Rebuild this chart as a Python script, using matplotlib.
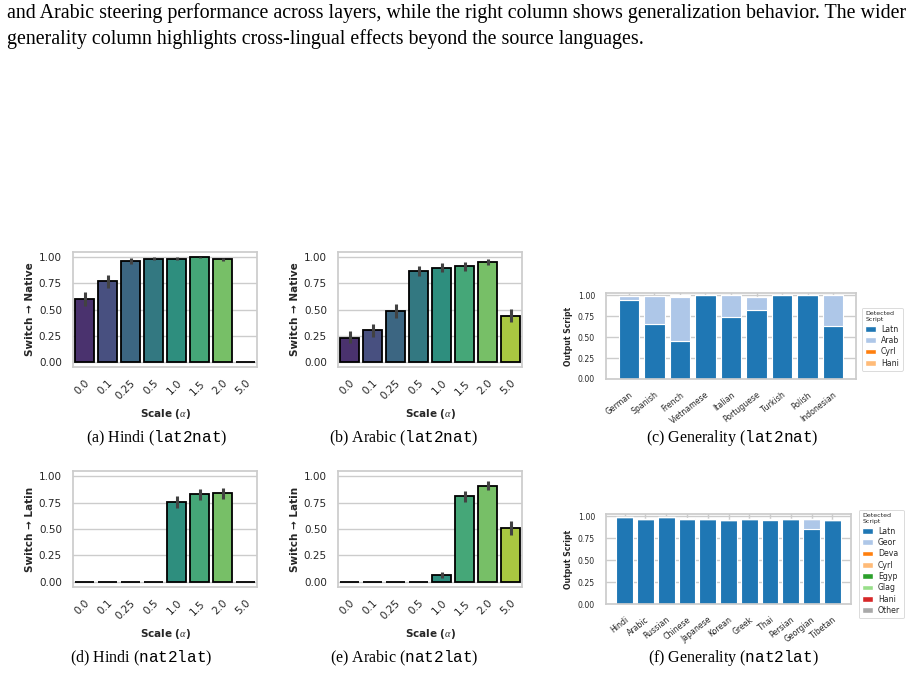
import numpy as np
import matplotlib
matplotlib.use("Agg")
import matplotlib.pyplot as plt
import seaborn as sns
from matplotlib.patches import Patch

sns.set_theme(style="whitegrid")
plt.rcParams['font.family'] = ['DejaVu Sans']
plt.rcParams['mathtext.fontset'] = 'custom'
plt.rcParams['mathtext.rm'] = 'Liberation Serif'
plt.rcParams['mathtext.it'] = 'Liberation Serif:italic'
plt.rcParams['mathtext.tt'] = 'Liberation Mono'

# scale sweep data
scales = ["0.0", "0.1", "0.25", "0.5", "1.0", "1.5", "2.0", "5.0"]

hi_l2n = [0.60, 0.77, 0.968, 0.984, 0.984, 1.0, 0.982, 0.0]
hi_l2n_lo = [0.535, 0.71, 0.94, 0.97, 0.97, 0.995, 0.965, 0.0]
hi_l2n_hi = [0.667, 0.83, 0.99, 0.998, 0.998, 1.0, 0.997, 0.0]

ar_l2n = [0.232, 0.30, 0.489, 0.87, 0.898, 0.914, 0.955, 0.441]
ar_l2n_lo = [0.175, 0.238, 0.422, 0.82, 0.857, 0.873, 0.927, 0.378]
ar_l2n_hi = [0.295, 0.365, 0.556, 0.92, 0.943, 0.952, 0.984, 0.508]

hi_n2l = [0.0, 0.0, 0.0, 0.0, 0.752, 0.829, 0.838, 0.0]
hi_n2l_lo = [0.0, 0.0, 0.0, 0.0, 0.695, 0.778, 0.787, 0.0]
hi_n2l_hi = [0.0, 0.0, 0.0, 0.0, 0.816, 0.876, 0.889, 0.0]

ar_n2l = [0.0, 0.0, 0.0, 0.0, 0.06, 0.81, 0.911, 0.514]
ar_n2l_lo = [0.0, 0.0, 0.0, 0.0, 0.032, 0.759, 0.87, 0.444]
ar_n2l_hi = [0.0, 0.0, 0.0, 0.0, 0.092, 0.863, 0.952, 0.578]

# generality data (lat2nat)
gen1_langs = ["German", "Spanish", "French", "Vietnamese", "Italian", "Portuguese",
              "Turkish", "Polish", "Indonesian"]
gen1_scripts = ["Latn", "Arab", "Cyrl", "Hani"]
gen1_latn = [0.94, 0.656, 0.46, 1.0, 0.74, 0.828, 1.0, 1.0, 0.628]
gen1_arab = [0.055, 0.332, 0.52, 0.0, 0.26, 0.152, 0.0, 0.0, 0.372]
gen1_cyrl = [0.0, 0.0, 0.015, 0.0, 0.0, 0.0, 0.0, 0.0, 0.0]
gen1_hani = [0.0, 0.0, 0.005, 0.0, 0.0, 0.0, 0.0, 0.0, 0.0]

# generality data (nat2lat)
gen2_langs = ["Hindi", "Arabic", "Russian", "Chinese", "Japanese", "Korean", "Greek",
              "Thai", "Persian", "Georgian", "Tibetan"]
gen2_scripts = ["Latn", "Geor", "Deva", "Cyrl", "Egyp", "Glag", "Hani", "Other"]
gen2_latn = [0.989, 0.973, 0.989, 0.973, 0.973, 0.958, 0.973, 0.958, 0.973, 0.852, 0.958]
gen2_geor = [0.0, 0.0, 0.0, 0.0, 0.0, 0.0, 0.0, 0.0, 0.0, 0.12, 0.0]
gen2_deva = [0.0, 0.0, 0.0, 0.0, 0.0, 0.0, 0.0, 0.0, 0.0, 0.0, 0.0]
gen2_cyrl = [0.0, 0.0, 0.0, 0.0, 0.0, 0.0, 0.0, 0.015, 0.0, 0.0, 0.0]
gen2_egyp = [0.0, 0.0, 0.0, 0.0, 0.0, 0.0, 0.0, 0.0, 0.0, 0.0, 0.0]
gen2_glag = [0.0, 0.0, 0.0, 0.0, 0.0, 0.0, 0.0, 0.0, 0.0, 0.0, 0.0]
gen2_hani = [0.0, 0.0, 0.0, 0.012, 0.0, 0.0, 0.0, 0.0, 0.0, 0.0, 0.0]
gen2_other = [0.0, 0.0, 0.0, 0.0, 0.0, 0.0, 0.0, 0.0, 0.0, 0.0, 0.0]

gen1_colors = ["#1f77b4", "#aec7e8", "#ff7f0e", "#ffbb78"]
gen2_colors = ["#1f77b4", "#aec7e8", "#ff7f0e", "#ffbb78", "#2ca02c", "#98df8a",
               "#d62728", "#a9a9a9"]

fig = plt.figure(figsize=(9.21, 6.74), dpi=100)
W, H = 921.0, 674.0


def px_axes(x0, y0, x1, y1):
    return fig.add_axes([x0 / W, 1 - y1 / H, (x1 - x0) / W, (y1 - y0) / H])


# seaborn barplot desaturates its palette by 0.75
pal = [sns.desaturate(c, 0.75) for c in sns.color_palette("viridis", len(scales))]


def scale_plot(ax, vals, lo, hi, ylabel):
    x = np.arange(len(scales))
    ax.bar(x, vals, width=0.8, color=pal, edgecolor="black", linewidth=1.3, zorder=2)
    for xi, l, h in zip(x, lo, hi):
        ax.plot([xi, xi], [l, h], color="#424242", lw=2.2, zorder=3, solid_capstyle="butt")
    ax.set_xlim(-0.5, len(scales) - 0.5)
    ax.set_ylim(-0.05, 1.05)
    ax.set_yticks([0, 0.25, 0.5, 0.75, 1.0])
    ax.set_yticklabels(["0.00", "0.25", "0.50", "0.75", "1.00"])
    ax.set_xticks(x)
    ax.set_xticklabels(scales, rotation=45, ha="right", rotation_mode="anchor")
    ax.tick_params(labelsize=7.5, colors="#262626", pad=2)
    ax.xaxis.grid(False)
    ax.set_ylabel(ylabel, fontsize=7.5, fontweight="bold", labelpad=3)
    ax.set_xlabel(r"Scale ($\alpha$)", fontsize=7.5, fontweight="bold", labelpad=4)


def gen_plot(ax, langs, series, colors, names, legend_xy):
    x = np.arange(len(langs))
    bottom = np.zeros(len(langs))
    for vals, c in zip(series, colors):
        ax.bar(x, vals, bottom=bottom, width=0.8, color=c, edgecolor="white",
               linewidth=0.8, zorder=2)
        bottom += np.array(vals)
    ax.set_xlim(-0.9, len(langs) - 0.1)
    ax.set_ylim(0, 1.028)
    ax.set_yticks([0, 0.25, 0.5, 0.75, 1.0])
    ax.set_yticklabels(["0.00", "0.25", "0.50", "0.75", "1.00"])
    ax.set_xticks(x)
    ax.set_xticklabels(langs, rotation=38, ha="right", rotation_mode="anchor")
    ax.tick_params(labelsize=5.6, colors="#262626", pad=2)
    ax.set_ylabel("Output Script", fontsize=5.6, fontweight="bold", labelpad=3)
    handles = [Patch(facecolor=c, edgecolor="white") for c in colors]
    leg = fig.legend(handles, names, title="Detected\nScript", loc="upper left",
                     bbox_to_anchor=legend_xy, fontsize=5.6, title_fontsize=4.5,
                     handlelength=1.3, handleheight=0.7, labelspacing=0.3,
                     borderpad=0.45, handletextpad=0.7, frameon=True)
    leg._legend_box.align = "left"
    leg.get_frame().set_edgecolor("#cccccc")
    leg.get_frame().set_linewidth(0.6)


ax_a = px_axes(73, 252, 257, 367)
scale_plot(ax_a, hi_l2n, hi_l2n_lo, hi_l2n_hi, "Switch → Native")
ax_b = px_axes(338, 252, 522, 367)
scale_plot(ax_b, ar_l2n, ar_l2n_lo, ar_l2n_hi, "Switch → Native")
ax_d = px_axes(73, 471, 257, 587)
scale_plot(ax_d, hi_n2l, hi_n2l_lo, hi_n2l_hi, "Switch → Latin")
ax_e = px_axes(338, 471, 522, 587)
scale_plot(ax_e, ar_n2l, ar_n2l_lo, ar_n2l_hi, "Switch → Latin")

ax_c = px_axes(606, 293, 856, 379)
gen_plot(ax_c, gen1_langs, [gen1_latn, gen1_arab, gen1_cyrl, gen1_hani],
         gen1_colors, gen1_scripts, (858 / W, 1 - 304 / H))
ax_f = px_axes(606, 514, 851, 604)
gen_plot(ax_f, gen2_langs, [gen2_latn, gen2_geor, gen2_deva, gen2_cyrl, gen2_egyp,
                            gen2_glag, gen2_hani, gen2_other],
         gen2_colors, gen2_scripts, (855 / W, 1 - 506 / H))

# captions
serif = "Liberation Serif"
caps = [(157, 438, r"(a) Hindi ($\mathtt{lat2nat}$)"),
        (404, 438, r"(b) Arabic ($\mathtt{lat2nat}$)"),
        (732, 438, r"(c) Generality ($\mathtt{lat2nat}$)"),
        (141, 658, r"(d) Hindi ($\mathtt{nat2lat}$)"),
        (404, 658, r"(e) Arabic ($\mathtt{nat2lat}$)"),
        (733, 658, r"(f) Generality ($\mathtt{nat2lat}$)")]
for cx, cy, t in caps:
    fig.text(cx / W, 1 - cy / H, t, ha="center", va="center", fontsize=11.5,
             family=serif, color="black")

# body text above the figure
fig.text(7 / W, 1 - 13 / H,
         "and Arabic steering performance across layers, while the right column shows "
         "generalization behavior. The wider",
         ha="left", va="center", fontsize=14.4, family=serif, color="black")
fig.text(7 / W, 1 - 39 / H,
         "generality column highlights cross-lingual effects beyond the source languages.",
         ha="left", va="center", fontsize=14.4, family=serif, color="black")

fig.savefig("out.png", dpi=100, facecolor="white")
